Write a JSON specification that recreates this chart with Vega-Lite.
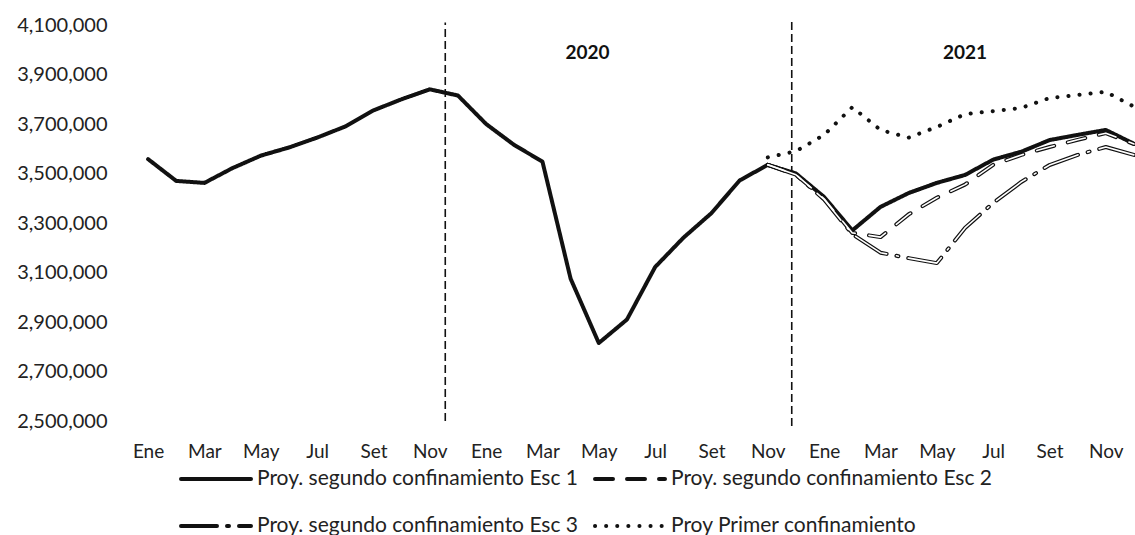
{
  "$schema": "https://vega.github.io/schema/vega-lite/v6.json",
  "width": 1000,
  "height": 396,
  "autosize": {"type": "none"},
  "padding": {"left": 134, "top": 25, "right": 1, "bottom": 114},
  "background": "white",
  "config": {"view": {"stroke": null}, "font": "Lato"},
  "datasets": {
    "series": [
      {"mes": 0, "serie": "Proy. segundo confinamiento Esc 1", "valor": 3558000},
      {"mes": 1, "serie": "Proy. segundo confinamiento Esc 1", "valor": 3470000},
      {"mes": 2, "serie": "Proy. segundo confinamiento Esc 1", "valor": 3462000},
      {"mes": 3, "serie": "Proy. segundo confinamiento Esc 1", "valor": 3522000},
      {"mes": 4, "serie": "Proy. segundo confinamiento Esc 1", "valor": 3572000},
      {"mes": 5, "serie": "Proy. segundo confinamiento Esc 1", "valor": 3605000},
      {"mes": 6, "serie": "Proy. segundo confinamiento Esc 1", "valor": 3645000},
      {"mes": 7, "serie": "Proy. segundo confinamiento Esc 1", "valor": 3690000},
      {"mes": 8, "serie": "Proy. segundo confinamiento Esc 1", "valor": 3755000},
      {"mes": 9, "serie": "Proy. segundo confinamiento Esc 1", "valor": 3800000},
      {"mes": 10, "serie": "Proy. segundo confinamiento Esc 1", "valor": 3840000},
      {"mes": 11, "serie": "Proy. segundo confinamiento Esc 1", "valor": 3815000},
      {"mes": 12, "serie": "Proy. segundo confinamiento Esc 1", "valor": 3700000},
      {"mes": 13, "serie": "Proy. segundo confinamiento Esc 1", "valor": 3615000},
      {"mes": 14, "serie": "Proy. segundo confinamiento Esc 1", "valor": 3548000},
      {"mes": 15, "serie": "Proy. segundo confinamiento Esc 1", "valor": 3075000},
      {"mes": 16, "serie": "Proy. segundo confinamiento Esc 1", "valor": 2815000},
      {"mes": 17, "serie": "Proy. segundo confinamiento Esc 1", "valor": 2910000},
      {"mes": 18, "serie": "Proy. segundo confinamiento Esc 1", "valor": 3122000},
      {"mes": 19, "serie": "Proy. segundo confinamiento Esc 1", "valor": 3240000},
      {"mes": 20, "serie": "Proy. segundo confinamiento Esc 1", "valor": 3340000},
      {"mes": 21, "serie": "Proy. segundo confinamiento Esc 1", "valor": 3472000},
      {"mes": 22, "serie": "Proy. segundo confinamiento Esc 1", "valor": 3535000},
      {"mes": 23, "serie": "Proy. segundo confinamiento Esc 1", "valor": 3500000},
      {"mes": 24, "serie": "Proy. segundo confinamiento Esc 1", "valor": 3405000},
      {"mes": 25, "serie": "Proy. segundo confinamiento Esc 1", "valor": 3270000},
      {"mes": 26, "serie": "Proy. segundo confinamiento Esc 1", "valor": 3365000},
      {"mes": 27, "serie": "Proy. segundo confinamiento Esc 1", "valor": 3421000},
      {"mes": 28, "serie": "Proy. segundo confinamiento Esc 1", "valor": 3462000},
      {"mes": 29, "serie": "Proy. segundo confinamiento Esc 1", "valor": 3494000},
      {"mes": 30, "serie": "Proy. segundo confinamiento Esc 1", "valor": 3556000},
      {"mes": 31, "serie": "Proy. segundo confinamiento Esc 1", "valor": 3588000},
      {"mes": 32, "serie": "Proy. segundo confinamiento Esc 1", "valor": 3635000},
      {"mes": 33, "serie": "Proy. segundo confinamiento Esc 1", "valor": 3656000},
      {"mes": 34, "serie": "Proy. segundo confinamiento Esc 1", "valor": 3676000},
      {"mes": 35, "serie": "Proy. segundo confinamiento Esc 1", "valor": 3620000},
      {"mes": 22, "serie": "Proy. segundo confinamiento Esc 2", "valor": 3535000},
      {"mes": 23, "serie": "Proy. segundo confinamiento Esc 2", "valor": 3495000},
      {"mes": 24, "serie": "Proy. segundo confinamiento Esc 2", "valor": 3398000},
      {"mes": 25, "serie": "Proy. segundo confinamiento Esc 2", "valor": 3260000},
      {"mes": 26, "serie": "Proy. segundo confinamiento Esc 2", "valor": 3243000},
      {"mes": 27, "serie": "Proy. segundo confinamiento Esc 2", "valor": 3335000},
      {"mes": 28, "serie": "Proy. segundo confinamiento Esc 2", "valor": 3402000},
      {"mes": 29, "serie": "Proy. segundo confinamiento Esc 2", "valor": 3455000},
      {"mes": 30, "serie": "Proy. segundo confinamiento Esc 2", "valor": 3535000},
      {"mes": 31, "serie": "Proy. segundo confinamiento Esc 2", "valor": 3575000},
      {"mes": 32, "serie": "Proy. segundo confinamiento Esc 2", "valor": 3607000},
      {"mes": 33, "serie": "Proy. segundo confinamiento Esc 2", "valor": 3636000},
      {"mes": 34, "serie": "Proy. segundo confinamiento Esc 2", "valor": 3663000},
      {"mes": 35, "serie": "Proy. segundo confinamiento Esc 2", "valor": 3619000},
      {"mes": 22, "serie": "Proy. segundo confinamiento Esc 3", "valor": 3535000},
      {"mes": 23, "serie": "Proy. segundo confinamiento Esc 3", "valor": 3495000},
      {"mes": 24, "serie": "Proy. segundo confinamiento Esc 3", "valor": 3395000},
      {"mes": 25, "serie": "Proy. segundo confinamiento Esc 3", "valor": 3255000},
      {"mes": 26, "serie": "Proy. segundo confinamiento Esc 3", "valor": 3180000},
      {"mes": 27, "serie": "Proy. segundo confinamiento Esc 3", "valor": 3158000},
      {"mes": 28, "serie": "Proy. segundo confinamiento Esc 3", "valor": 3138000},
      {"mes": 29, "serie": "Proy. segundo confinamiento Esc 3", "valor": 3280000},
      {"mes": 30, "serie": "Proy. segundo confinamiento Esc 3", "valor": 3381000},
      {"mes": 31, "serie": "Proy. segundo confinamiento Esc 3", "valor": 3466000},
      {"mes": 32, "serie": "Proy. segundo confinamiento Esc 3", "valor": 3534000},
      {"mes": 33, "serie": "Proy. segundo confinamiento Esc 3", "valor": 3575000},
      {"mes": 34, "serie": "Proy. segundo confinamiento Esc 3", "valor": 3607000},
      {"mes": 35, "serie": "Proy. segundo confinamiento Esc 3", "valor": 3575000},
      {"mes": 22, "serie": "Proy Primer confinamiento", "valor": 3565000},
      {"mes": 23, "serie": "Proy Primer confinamiento", "valor": 3590000},
      {"mes": 24, "serie": "Proy Primer confinamiento", "valor": 3656000},
      {"mes": 25, "serie": "Proy Primer confinamiento", "valor": 3768000},
      {"mes": 26, "serie": "Proy Primer confinamiento", "valor": 3676000},
      {"mes": 27, "serie": "Proy Primer confinamiento", "valor": 3645000},
      {"mes": 28, "serie": "Proy Primer confinamiento", "valor": 3688000},
      {"mes": 29, "serie": "Proy Primer confinamiento", "valor": 3740000},
      {"mes": 30, "serie": "Proy Primer confinamiento", "valor": 3752000},
      {"mes": 31, "serie": "Proy Primer confinamiento", "valor": 3765000},
      {"mes": 32, "serie": "Proy Primer confinamiento", "valor": 3805000},
      {"mes": 33, "serie": "Proy Primer confinamiento", "valor": 3817000},
      {"mes": 34, "serie": "Proy Primer confinamiento", "valor": 3830000},
      {"mes": 35, "serie": "Proy Primer confinamiento", "valor": 3770000}
    ],
    "divisores": [
      {"mes": 10.55, "valor": 2500000, "valor2": 4110000},
      {"mes": 22.85, "valor": 2480000, "valor2": 4115000}
    ],
    "anios": [
      {"mes": 15.6, "valor": 3987000, "label": "2020"},
      {"mes": 29.0, "valor": 3987000, "label": "2021"}
    ]
  },
  "encoding": {
    "x": {
      "field": "mes",
      "type": "quantitative",
      "scale": {"domain": [-0.5, 35], "nice": false, "zero": false},
      "axis": {
        "title": null,
        "values": [0, 2, 4, 6, 8, 10, 12, 14, 16, 18, 20, 22, 24, 26, 28, 30, 32, 34],
        "labelExpr": "['Ene','Feb','Mar','Abr','May','Jun','Jul','Ago','Set','Oct','Nov','Dic'][datum.value % 12]",
        "domain": false,
        "ticks": false,
        "grid": false,
        "labelFont": "Lato",
        "labelFontSize": 19,
        "labelColor": "#222222",
        "labelPadding": 21,
        "labelFlush": false,
        "labelOverlap": false
      }
    },
    "y": {
      "field": "valor",
      "type": "quantitative",
      "scale": {"domain": [2500000, 4100000], "nice": false, "zero": false},
      "axis": {
        "title": null,
        "values": [2500000, 2700000, 2900000, 3100000, 3300000, 3500000, 3700000, 3900000, 4100000],
        "format": ",d",
        "domain": false,
        "ticks": false,
        "grid": false,
        "labelFont": "Lato",
        "labelFontSize": 20,
        "labelColor": "#222222",
        "labelPadding": 27
      }
    }
  },
  "layer": [
    {
      "data": {"name": "divisores"},
      "mark": {"type": "rule", "color": "#111111", "strokeWidth": 1.6, "strokeDash": [8, 4], "clip": false},
      "encoding": {"y2": {"field": "valor2"}}
    },
    {
      "data": {"name": "series"},
      "mark": {"type": "line", "color": "#111111", "strokeWidth": 4, "strokeCap": "round", "strokeJoin": "round"},
      "encoding": {
        "strokeDash": {
          "field": "serie",
          "type": "nominal",
          "scale": {
            "domain": ["Proy. segundo confinamiento Esc 1", "Proy. segundo confinamiento Esc 2", "Proy. segundo confinamiento Esc 3", "Proy Primer confinamiento"],
            "range": [[1, 0], [18, 14], [36, 10, 2, 10], [0.1, 11]]
          },
          "legend": {
            "title": null,
            "orient": "none",
            "legendX": 45,
            "legendY": 417,
            "direction": "horizontal",
            "columns": 2,
            "symbolType": "stroke",
            "symbolSize": 4900,
            "symbolStrokeWidth": 4,
            "symbolStrokeColor": "#111111",
            "labelFont": "Lato",
            "labelFontSize": 21,
            "labelColor": "#222222",
            "labelLimit": 0,
            "labelOffset": 4,
            "rowPadding": -30,
            "columnPadding": 8,
            "encode": {"symbols": {"update": {"strokeCap": {"value": "round"}}}}
          }
        }
      }
    },
    {
      "data": {"name": "series"},
      "transform": [{"filter": "datum.serie === 'Proy. segundo confinamiento Esc 2'"}],
      "mark": {"type": "line", "color": "white", "strokeWidth": 1.6, "strokeDash": [18, 14], "strokeCap": "round", "strokeJoin": "round"}
    },
    {
      "data": {"name": "series"},
      "transform": [{"filter": "datum.serie === 'Proy. segundo confinamiento Esc 3'"}],
      "mark": {"type": "line", "color": "white", "strokeWidth": 1.6, "strokeDash": [36, 10, 2, 10], "strokeCap": "round", "strokeJoin": "round"}
    },
    {
      "data": {"name": "anios"},
      "mark": {"type": "text", "font": "Lato", "fontSize": 19, "fontWeight": "bold", "color": "#111111"},
      "encoding": {"text": {"field": "label"}}
    }
  ]
}
